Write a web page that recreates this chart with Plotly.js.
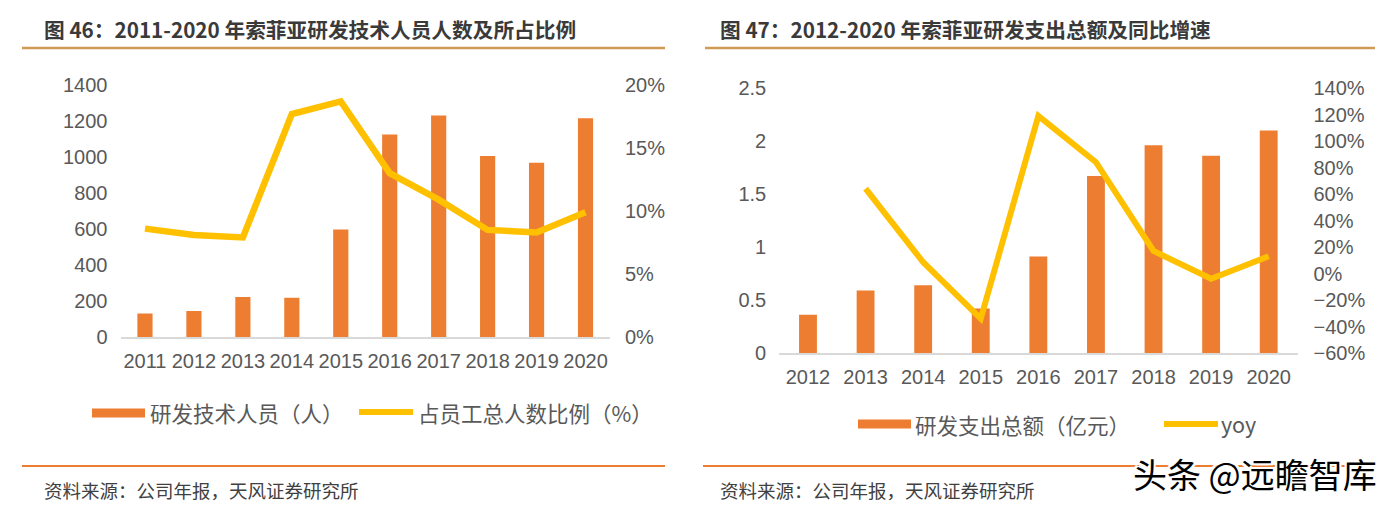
<!DOCTYPE html>
<html>
<head>
<meta charset="utf-8">
<script src="https://cdn.plot.ly/plotly-3.0.1.min.js"></script>
<style>
  html, body { margin: 0; padding: 0; background: #ffffff; }
  #chart { width: 1395px; height: 509px; }
</style>
</head>
<body>
<div id="chart"></div>
<script>
// ---- Data: left chart (图46) ----
const years46 = ['2011', '2012', '2013', '2014', '2015', '2016', '2017', '2018', '2019', '2020'];
const staff46 = [130, 145, 222, 218, 597, 1125, 1230, 1005, 968, 1215];
const ratio46 = [0.086, 0.081, 0.079, 0.177, 0.187, 0.130, 0.109, 0.085, 0.083, 0.099];
const name46Bar = '研发技术人员（人）';
const name46Line = '占员工总人数比例（%）';

// ---- Data: right chart (图47) ----
const years47 = ['2012', '2013', '2014', '2015', '2016', '2017', '2018', '2019', '2020'];
const spend47 = [0.36, 0.59, 0.64, 0.42, 0.91, 1.67, 1.96, 1.86, 2.10];
const yoy47 = [null, 0.64, 0.085, -0.34, 1.19, 0.84, 0.17, -0.04, 0.13];
const name47Bar = '研发支出总额（亿元）';
const name47Line = 'yoy';

// ---- Text ----
const title46 = '图 46：2011-2020 年索菲亚研发技术人员人数及所占比例';
const title47 = '图 47：2012-2020 年索菲亚研发支出总额及同比增速';
const sourceText = '资料来源：公司年报，天风证券研究所';
const watermark = '头条 @远瞻智库';

// ---- Style ----
const W = 1395, H = 509;
const px = v => v / W;
const py = v => 1 - v / H;
const ORANGE = '#ED7D31';
const YELLOW = '#FFC000';
const TICKGRAY = '#595959';
const NUMFONT = 'Liberation Sans, Arial, sans-serif';
const CJKFONT = 'Noto Sans CJK SC, sans-serif';

const tickFont = { family: NUMFONT, size: 20, color: TICKGRAY };
const legendFont = { family: CJKFONT, size: 21.5, color: TICKGRAY };

const traces = [
  { type: 'bar', x: years46, y: staff46, name: name46Bar, xaxis: 'x', yaxis: 'y',
    marker: { color: ORANGE }, width: 0.31, showlegend: false },
  { type: 'scatter', mode: 'lines', x: years46, y: ratio46, name: name46Line, xaxis: 'x', yaxis: 'y2',
    line: { color: YELLOW, width: 6.5 }, showlegend: false },
  { type: 'bar', x: years47, y: spend47, name: name47Bar, xaxis: 'x2', yaxis: 'y3',
    marker: { color: ORANGE }, width: 0.31, showlegend: false },
  { type: 'scatter', mode: 'lines', x: years47, y: yoy47, name: name47Line, xaxis: 'x2', yaxis: 'y4',
    line: { color: YELLOW, width: 6 }, connectgaps: false, showlegend: false }
];

const xBase = {
  type: 'category', showgrid: false, zeroline: false, showline: true,
  linecolor: '#D9D9D9', linewidth: 1.5, ticks: '', tickfont: tickFont,
  ticklabelstandoff: 5, fixedrange: true
};
const yBase = {
  showgrid: false, zeroline: false, showline: false, ticks: '',
  tickfont: tickFont, ticklabelstandoff: 12, fixedrange: true
};

// legend swatch helpers (paper coordinates)
const swatchRect = (x0, x1, yc) => ({ type: 'rect', xref: 'paper', yref: 'paper',
  x0: px(x0), x1: px(x1), y0: py(yc + 4.5), y1: py(yc - 4.5), fillcolor: ORANGE, line: { width: 0 } });
const swatchLine = (x0, x1, yc) => ({ type: 'line', xref: 'paper', yref: 'paper',
  x0: px(x0), x1: px(x1), y0: py(yc), y1: py(yc), line: { color: YELLOW, width: 6 } });
const legendText = (text, x, yc) => ({ text: text, xref: 'paper', yref: 'paper', x: px(x), y: py(yc),
  xanchor: 'left', yanchor: 'middle', showarrow: false, font: legendFont });
const hrule = (x0, x1, y, color, w) => ({ type: 'line', xref: 'paper', yref: 'paper',
  x0: px(x0), x1: px(x1), y0: py(y), y1: py(y), line: { color: color, width: w } });

const layout = {
  width: W, height: H,
  margin: { l: 0, r: 0, t: 0, b: 0 },
  paper_bgcolor: '#ffffff', plot_bgcolor: 'rgba(0,0,0,0)',
  showlegend: false,
  xaxis: Object.assign({}, xBase, { domain: [px(120.5), px(610)], anchor: 'y' }),
  yaxis: Object.assign({}, yBase, { domain: [py(337), py(85)], range: [0, 1400], dtick: 200, anchor: 'x' }),
  yaxis2: Object.assign({}, yBase, { domain: [py(337), py(85)], range: [0, 0.2], dtick: 0.05,
    tickformat: '.0%', overlaying: 'y', side: 'right', anchor: 'x', ticklabelstandoff: 14 }),
  xaxis2: Object.assign({}, xBase, { domain: [px(779.2), px(1297.5)], anchor: 'y3' }),
  yaxis3: Object.assign({}, yBase, { domain: [py(353), py(88)], range: [0, 2.5], dtick: 0.5, anchor: 'x2' }),
  yaxis4: Object.assign({}, yBase, { domain: [py(353), py(88)], range: [-0.6, 1.4], dtick: 0.2,
    tickformat: '.0%', overlaying: 'y3', side: 'right', anchor: 'x2', ticklabelstandoff: 15 }),
  shapes: [
    hrule(22, 665, 48, '#CF9A55', 2.5),
    hrule(705, 1375, 48, '#CF9A55', 2.5),
    hrule(22, 665, 466, ORANGE, 2),
    hrule(703, 1375, 466, ORANGE, 2),
    swatchRect(92, 145, 413),
    swatchLine(359, 413, 412),
    swatchRect(858, 911, 424),
    swatchLine(1164, 1218, 424)
  ],
  annotations: [
    { text: '<b>' + title46 + '</b>', xref: 'paper', yref: 'paper', x: px(42), y: py(29),
      xanchor: 'left', yanchor: 'middle', showarrow: false,
      font: { family: CJKFONT, size: 20.7, color: '#3A3A3A' } },
    { text: '<b>' + title47 + '</b>', xref: 'paper', yref: 'paper', x: px(718), y: py(29),
      xanchor: 'left', yanchor: 'middle', showarrow: false,
      font: { family: CJKFONT, size: 20.7, color: '#3A3A3A' } },
    legendText(name46Bar, 148, 412),
    legendText(name46Line, 416, 412),
    legendText(name47Bar, 913, 424),
    legendText(name47Line, 1219, 423),
    { text: sourceText, xref: 'paper', yref: 'paper', x: px(42), y: py(490),
      xanchor: 'left', yanchor: 'middle', showarrow: false,
      font: { family: CJKFONT, size: 18.5, color: '#404040' } },
    { text: sourceText, xref: 'paper', yref: 'paper', x: px(718), y: py(490),
      xanchor: 'left', yanchor: 'middle', showarrow: false,
      font: { family: CJKFONT, size: 18.5, color: '#404040' } },
    { text: watermark, xref: 'paper', yref: 'paper', x: px(1379), y: py(473),
      xanchor: 'right', yanchor: 'middle', showarrow: false,
      font: { family: CJKFONT, size: 34, color: '#000000',
        shadow: '2px 2px 0px #ffffff, -2px -2px 0px #ffffff, 2px -2px 0px #ffffff, -2px 2px 0px #ffffff' } }
  ]
};

Plotly.newPlot('chart', traces, layout, { displayModeBar: false, staticPlot: true });
</script>
</body>
</html>
